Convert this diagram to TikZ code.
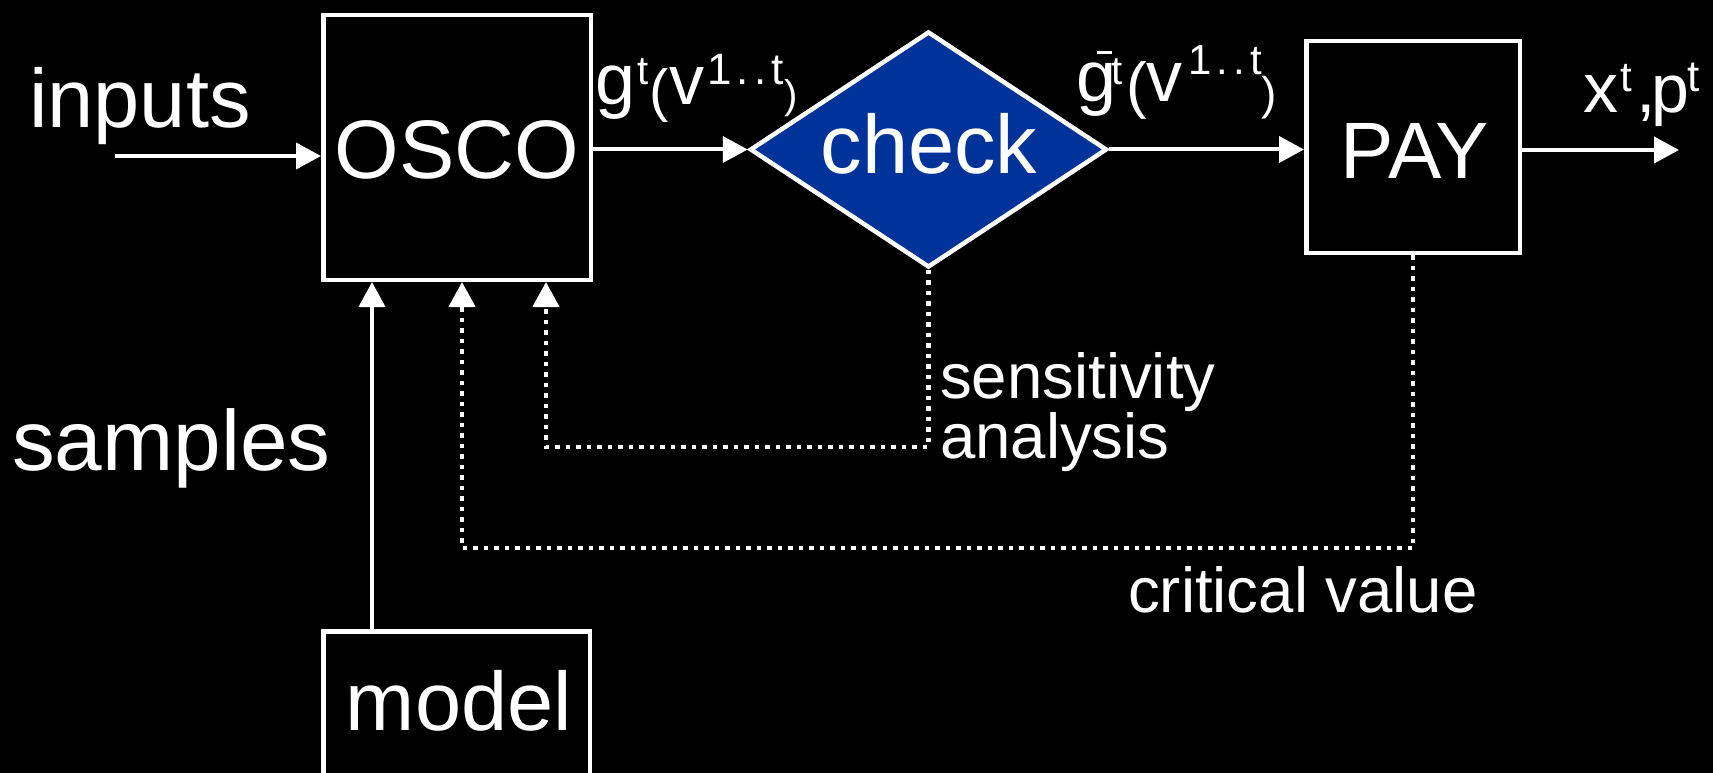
\documentclass[tikz,border=0pt]{standalone}
\usepackage{fontspec}
\setmainfont{Liberation Sans}
\usetikzlibrary{arrows.meta,shapes.geometric}
\definecolor{checkblue}{RGB}{0,51,153}
% font size helper and a fixed-width, raised glyph piece for the flow labels
\newcommand\fsz[1]{\fontsize{#1}{#1}\selectfont}
\newcommand\gpiece[4]{\makebox[#1][l]{\raisebox{#3}{\fsz{#2}#4}}}
\newcommand\spread[4]{\makebox[#1][s]{\raisebox{#3}{\fsz{#2}1}\hfill\raisebox{#3}{\fsz{#2}.}\hfill\raisebox{#3}{\fsz{#2}.}\hfill\raisebox{#3}{\fsz{#2}#4}}}

\begin{document}
\begin{tikzpicture}[x=1pt,y=-1pt,
  every node/.style={text=white, inner sep=0pt},
  box/.style={draw=white, line width=4.5pt, rectangle},
  bigtext/.style={font=\fsz{83}},
  smalltext/.style={font=\fsz{63.5}},
  flow/.style={draw=white, line width=4pt, -{Triangle[length=25pt,width=26pt]}},
  fback/.style={flow, line width=4.5pt, dash pattern=on 4.5pt off 6pt},
]
\fill[black] (0,0) rectangle (1713,773);
\useasboundingbox (0,0) rectangle (1713,773);

% blocks
\node[box, minimum width=267.5pt, minimum height=264.5pt] (osco) at (457,147.5) {};
\node[draw=white, fill=checkblue, line width=4.5pt, diamond,
      minimum width=357pt, minimum height=236pt] (check) at (928.5,149.5) {};
\node[box, minimum width=213.5pt, minimum height=211.5pt] (pay) at (1413,147) {};
\node[box, minimum width=266.5pt, minimum height=200pt, anchor=north] (model) at (456.5,629) {};

% block texts
\node[bigtext, anchor=base] (oscot) at (457,178) {OSCO};
\node[bigtext, anchor=base] (checkt) at (929,173) {check};
\node[font=\fsz{80}, anchor=base] (payt) at (1415,178) {PAY};
\node[bigtext, anchor=base] (modelt) at (459,730) {model};

% free labels
\node[bigtext, anchor=base west] (inputs) at (29,128) {inputs};
\node[font=\fsz{85.5}, anchor=base west] (samples) at (12,470) {samples};
\node[smalltext, anchor=base west] (sens1) at (940,398) {sensitivity};
\node[smalltext, anchor=base west] (sens2) at (940,458) {analysis};
\node[smalltext, anchor=base west] (crit) at (1128,612) {critical value};

% flow labels
\node[anchor=base west] (glab) at (595.6,105)
  {\gpiece{41.8pt}{72}{0pt}{g}\gpiece{11.9pt}{40}{20pt}{t}\gpiece{20.2pt}{58}{-6pt}{(}%
   \gpiece{37.5pt}{70}{0pt}{v}\spread{77pt}{44}{20pt}{t}\gpiece{20pt}{40}{-4pt}{)}};
\node[anchor=base west] (gbarlab) at (1076,102)
  {\gpiece{35.5pt}{72}{0pt}{g}\llap{\raisebox{47.5pt}{\rule{15pt}{3.5pt}}}%
   \gpiece{14.5pt}{40}{17pt}{t}\gpiece{20.5pt}{62}{-5pt}{(}%
   \gpiece{41.9pt}{72}{0pt}{v}\spread{73.2pt}{42}{27pt}{t}\gpiece{20pt}{46}{-8pt}{)}};
\node[anchor=base west] (xplab) at (1583,113)
  {\gpiece{37pt}{70}{0pt}{x}\gpiece{16pt}{42}{21pt}{t}\gpiece{15pt}{70}{0pt}{,}%
   \gpiece{36pt}{68}{0pt}{p}\gpiece{20pt}{44}{21pt}{t}};

% guide coordinates for the connectors
\coordinate (inl) at (115,156);
\coordinate (outr) at (1679,150);
\coordinate (colA) at (372,0);
\coordinate (colB) at (462,0);
\coordinate (colC) at (546,0);
\coordinate (rowS) at (0,447);
\coordinate (rowC) at (0,548);

% forward flow
\draw[flow] (inl) -- (inl -| osco.west);
\draw[flow] (osco.east |- check.west) -- (check.west);
\draw[flow] (check.east) -- (check.east -| pay.west);
\draw[flow] (outr -| pay.east) -- (outr);
\draw[flow] (colA |- model.north) -- (colA |- osco.south);

% dotted feedback loops
\draw[fback] (check.south) -- (check.south |- rowS) -- (colC |- rowS) -- (colC |- osco.south);
\draw[fback] (pay.south) -- (pay.south |- rowC) -- (colB |- rowC) -- (colB |- osco.south);
\end{tikzpicture}
\end{document}
